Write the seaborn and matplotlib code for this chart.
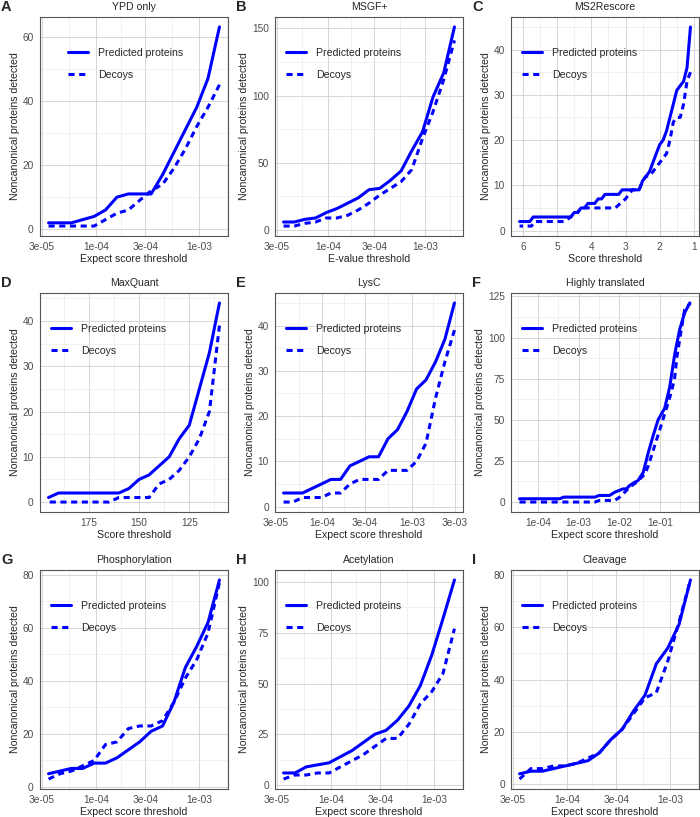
import matplotlib
matplotlib.use("Agg")
import matplotlib.pyplot as plt
from matplotlib.lines import Line2D
import numpy as np
import pandas as pd
import seaborn as sns

# -- data ---------------------------------------------------------------------

# shared expect-score / e-value thresholds (log spaced)
EXPECT_GRID = [3.50e-5, 4.51e-5, 5.81e-5, 7.48e-5, 9.64e-5, 1.24e-4, 1.60e-4,
               2.06e-4, 2.65e-4, 3.42e-4, 4.41e-4, 5.68e-4, 7.31e-4, 9.42e-4,
               1.21e-3, 1.56e-3, 2.01e-3]

A_PRED = [2, 2, 2, 3, 4, 6, 10, 11, 11, 11, 17, 24, 31, 38, 47, 63]
A_DECOY = [1, 1, 1, 1, 1, 3, 5, 6, 9, 12, 14, 19, 25, 32, 38, 45]

B_PRED = [6, 6, 8, 9, 13, 16, 20, 24, 30, 31, 37, 44, 59, 73, 99, 117, 151]
B_DECOY = [3, 3, 5, 6, 9, 9, 11, 15, 20, 26, 31, 36, 45, 68, 88, 112, 141]

C_PRED_X = [6.1, 5.8, 5.7, 4.6, 4.5, 4.4, 4.3, 4.2, 4.1, 3.9, 3.8, 3.7, 3.6,
            3.2, 3.1, 2.6, 2.5, 2.4, 2.3, 2.2, 2.1, 2.0, 1.9, 1.8, 1.7, 1.6,
            1.5, 1.4, 1.3, 1.2, 1.1]
C_PRED = [2, 2, 3, 3, 4, 4, 5, 5, 6, 6, 7, 7, 8, 8, 9, 9, 11, 12, 13, 15, 17,
          19, 20, 22, 25, 28, 31, 32, 33, 36, 45]
C_DECOY_X = [6.1, 5.75, 5.65, 4.8, 4.6, 4.5, 4.4, 4.3, 3.3, 3.0, 2.8, 2.6,
             2.5, 2.4, 2.3, 2.2, 2.1, 2.0, 1.9, 1.8, 1.7, 1.6, 1.5, 1.4, 1.3,
             1.2, 1.1]
C_DECOY = [1, 1, 2, 2, 3, 4, 4, 5, 5, 7, 9, 9, 11, 12, 12, 13, 14, 15, 16,
           17, 20, 24, 25, 25, 28, 33, 35]

D_X = [195, 190, 185, 180, 175, 170, 165, 160, 155, 150, 145, 140, 135, 130,
       125, 120, 115, 110]
D_PRED = [1, 2, 2, 2, 2, 2, 2, 2, 3, 5, 6, 8, 10, 14, 17, 25, 33, 44]
D_DECOY = [0, 0, 0, 0, 0, 0, 0, 1, 1, 1, 1, 4, 5, 7, 10, 14, 20, 39]

E_X = [3.70e-5, 4.72e-5, 6.03e-5, 7.69e-5, 9.82e-5, 1.25e-4, 1.60e-4,
       2.04e-4, 2.61e-4, 3.33e-4, 4.25e-4, 5.42e-4, 6.92e-4, 8.83e-4,
       1.13e-3, 1.44e-3, 1.84e-3, 2.34e-3, 2.99e-3]
E_PRED = [3, 3, 3, 4, 5, 6, 6, 9, 10, 11, 11, 15, 17, 21, 26, 28, 32, 37, 45]
E_DECOY = [1, 1, 2, 2, 2, 3, 3, 5, 6, 6, 6, 8, 8, 8, 10, 14, 24, 32, 39]

F_PRED_X = [3.5e-5, 3.4e-4, 4.3e-4, 2.5e-3, 3.2e-3, 5.8e-3, 7.8e-3, 9.9e-3,
            1.24e-2, 1.5e-2, 1.8e-2, 2.4e-2, 2.9e-2, 3.9e-2, 5.2e-2, 6.8e-2,
            9.1e-2, 1.32e-1, 1.76e-1, 2.34e-1, 3.1e-1, 4.1e-1, 5.5e-1]
F_PRED = [2, 2, 3, 3, 4, 4, 6, 7, 8, 8, 10, 12, 13, 18, 30, 40, 50, 57, 70,
          90, 105, 115, 121]
F_DECOY_X = [3.5e-5, 2.5e-3, 3.3e-3, 7.8e-3, 1.03e-2, 1.37e-2, 1.8e-2,
             2.65e-2, 4.3e-2, 5.2e-2, 6.8e-2, 1.0e-1, 1.46e-1, 1.94e-1,
             2.34e-1, 2.67e-1, 3.4e-1, 4.1e-1, 5.7e-1]
F_DECOY = [0, 0, 1, 1, 3, 6, 9, 12, 17, 22, 31, 44, 57, 67, 76, 89, 105, 117,
           121]

G_PRED = [5, 6, 7, 7, 9, 9, 11, 14, 17, 21, 23, 32, 45, 53, 62, 78]
G_DECOY = [3, 5, 6, 8, 10, 16, 17, 22, 23, 23, 25, 32, 41, 48, 58, 77]

H_PRED = [6, 6, 9, 10, 11, 14, 17, 21, 25, 27, 32, 39, 49, 64, 82, 101]
H_DECOY = [3, 5, 5, 6, 6, 9, 12, 15, 19, 23, 23, 30, 40, 46, 55, 77]

I_PRED = [4, 5, 5, 6, 7, 8, 9, 12, 17, 21, 28, 34, 46, 52, 61, 78]
I_DECOY = [2, 6, 6, 7, 7, 8, 10, 12, 17, 21, 27, 33, 35, 47, 62, 78]

EXP_TICKS = [3e-5, 1e-4, 3e-4, 1e-3]
EXP_LABELS = ["3e-05", "1e-04", "3e-04", "1e-03"]

PANELS = [
    dict(letter="A", title="YPD only", xlabel="Expect score threshold",
         pred=(EXPECT_GRID[:16], A_PRED), decoy=(EXPECT_GRID[:16], A_DECOY),
         log=True, xticks=EXP_TICKS, xlabels=EXP_LABELS,
         yticks=[0, 20, 40, 60], legx=0.15),
    dict(letter="B", title="MSGF+", xlabel="E-value threshold",
         pred=(EXPECT_GRID, B_PRED), decoy=(EXPECT_GRID, B_DECOY),
         log=True, xticks=EXP_TICKS, xlabels=EXP_LABELS,
         yticks=[0, 50, 100, 150], legx=0.06),
    dict(letter="C", title="MS2Rescore", xlabel="Score threshold",
         pred=(C_PRED_X, C_PRED), decoy=(C_DECOY_X, C_DECOY),
         log=False, xticks=[6, 5, 4, 3, 2, 1],
         xlabels=["6", "5", "4", "3", "2", "1"],
         yticks=[0, 10, 20, 30, 40], legx=0.06, invert=True),
    dict(letter="D", title="MaxQuant", xlabel="Score threshold",
         pred=(D_X, D_PRED), decoy=(D_X, D_DECOY),
         log=False, xticks=[175, 150, 125], xlabels=["175", "150", "125"],
         yticks=[0, 10, 20, 30, 40], legx=0.06, invert=True),
    dict(letter="E", title="LysC", xlabel="Expect score threshold",
         pred=(E_X, E_PRED), decoy=(E_X, E_DECOY),
         log=True, xticks=EXP_TICKS + [3e-3], xlabels=EXP_LABELS + ["3e-03"],
         yticks=[0, 10, 20, 30, 40], legx=0.06),
    dict(letter="F", title="Highly translated", xlabel="Expect score threshold",
         pred=(F_PRED_X, F_PRED), decoy=(F_DECOY_X, F_DECOY),
         log=True, xticks=[1e-4, 1e-3, 1e-2, 1e-1],
         xlabels=["1e-04", "1e-03", "1e-02", "1e-01"],
         yticks=[0, 25, 50, 75, 100, 125], legx=0.06),
    dict(letter="G", title="Phosphorylation", xlabel="Expect score threshold",
         pred=(EXPECT_GRID[:16], G_PRED), decoy=(EXPECT_GRID[:16], G_DECOY),
         log=True, xticks=EXP_TICKS, xlabels=EXP_LABELS,
         yticks=[0, 20, 40, 60, 80], legx=0.06),
    dict(letter="H", title="Acetylation", xlabel="Expect score threshold",
         pred=(EXPECT_GRID[:16], H_PRED), decoy=(EXPECT_GRID[:16], H_DECOY),
         log=True, xticks=EXP_TICKS, xlabels=EXP_LABELS,
         yticks=[0, 25, 50, 75, 100], legx=0.06),
    dict(letter="I", title="Cleavage", xlabel="Expect score threshold",
         pred=(EXPECT_GRID[:16], I_PRED), decoy=(EXPECT_GRID[:16], I_DECOY),
         log=True, xticks=EXP_TICKS, xlabels=EXP_LABELS,
         yticks=[0, 20, 40, 60, 80], legx=0.06),
]

# -- style ----------------------------------------------------------------------

BLUE = "#0000FF"
LW = 2.2
DASH = (2.0, 1.5)
FIG_W, FIG_H = 700, 817
COL_LEFT = [40, 275, 511]
ROW_TOP = [17, 293, 570]
AX_W, AX_H = 188, 219

sns.set_style("white")
plt.rcParams["font.family"] = ["Liberation Sans", "DejaVu Sans"]


def minor_breaks(major, log):
    vals = np.log10(major) if log else np.asarray(major, dtype=float)
    vals = np.sort(vals)
    ext = np.concatenate([[vals[0] - (vals[1] - vals[0])], vals,
                          [vals[-1] + (vals[-1] - vals[-2])]])
    mids = (ext[:-1] + ext[1:]) / 2
    return 10 ** mids if log else mids


def draw_panel(ax, p):
    rows = []
    for kind, (xs, ys) in (("Predicted proteins", p["pred"]), ("Decoys", p["decoy"])):
        for x, y in zip(xs, ys):
            rows.append({"threshold": x, "count": y, "type": kind})
    df = pd.DataFrame(rows)

    if p["log"]:
        ax.set_xscale("log")
    sns.lineplot(data=df, x="threshold", y="count", style="type",
                 style_order=["Predicted proteins", "Decoys"],
                 dashes={"Predicted proteins": "", "Decoys": DASH},
                 color=BLUE, linewidth=LW, estimator=None, legend=False, ax=ax)
    if p.get("invert"):
        ax.invert_xaxis()

    xlim, ylim = ax.get_xlim(), ax.get_ylim()
    ax.set_xticks(p["xticks"])
    ax.set_xticklabels(p["xlabels"])
    ax.set_xticks(minor_breaks(p["xticks"], p["log"]), minor=True)
    ax.set_yticks(p["yticks"])
    ax.set_yticks(minor_breaks(p["yticks"], False), minor=True)
    ax.set_xlim(xlim)
    ax.set_ylim(ylim)

    ax.grid(True, which="major", color="#D0D0D0", lw=0.6)
    ax.grid(True, which="minor", color="#EAEAEA", lw=0.45)
    ax.set_axisbelow(True)
    ax.tick_params(which="minor", length=0)
    ax.tick_params(which="major", length=3, width=0.6, color="#333333",
                   labelsize=7.3, labelcolor="#4D4D4D", pad=1.5)
    for s in ax.spines.values():
        s.set_visible(True)
        s.set_color("#555555")
        s.set_linewidth(0.8)

    ax.set_xlabel(p["xlabel"], fontsize=7.6, labelpad=1)
    ax.set_ylabel("Noncanonical proteins detected", fontsize=7.6, labelpad=2)
    ax.set_title(p["title"], fontsize=7.6, pad=5)

    handles = [Line2D([], [], color=BLUE, lw=LW, ls="-"),
               Line2D([], [], color=BLUE, lw=LW, dashes=DASH)]
    ax.legend(handles, ["Predicted proteins", "Decoys"], loc="upper left",
              bbox_to_anchor=(p["legx"], 0.86), frameon=False, borderpad=0,
              borderaxespad=0, handlelength=1.9, handletextpad=0.9,
              labelspacing=1.15, fontsize=7.6)


fig = plt.figure(figsize=(FIG_W / 100, FIG_H / 100), dpi=100)
for i, p in enumerate(PANELS):
    r, c = divmod(i, 3)
    left = COL_LEFT[c] / FIG_W
    bottom = 1 - (ROW_TOP[r] + AX_H) / FIG_H
    ax = fig.add_axes([left, bottom, AX_W / FIG_W, AX_H / FIG_H])
    draw_panel(ax, p)
    fig.text((COL_LEFT[c] - 39) / FIG_W, 1 - (ROW_TOP[r] - 10) / FIG_H,
             p["letter"], fontsize=10.5, fontweight="bold", ha="left", va="center")

fig.savefig("out.png", dpi=100)
